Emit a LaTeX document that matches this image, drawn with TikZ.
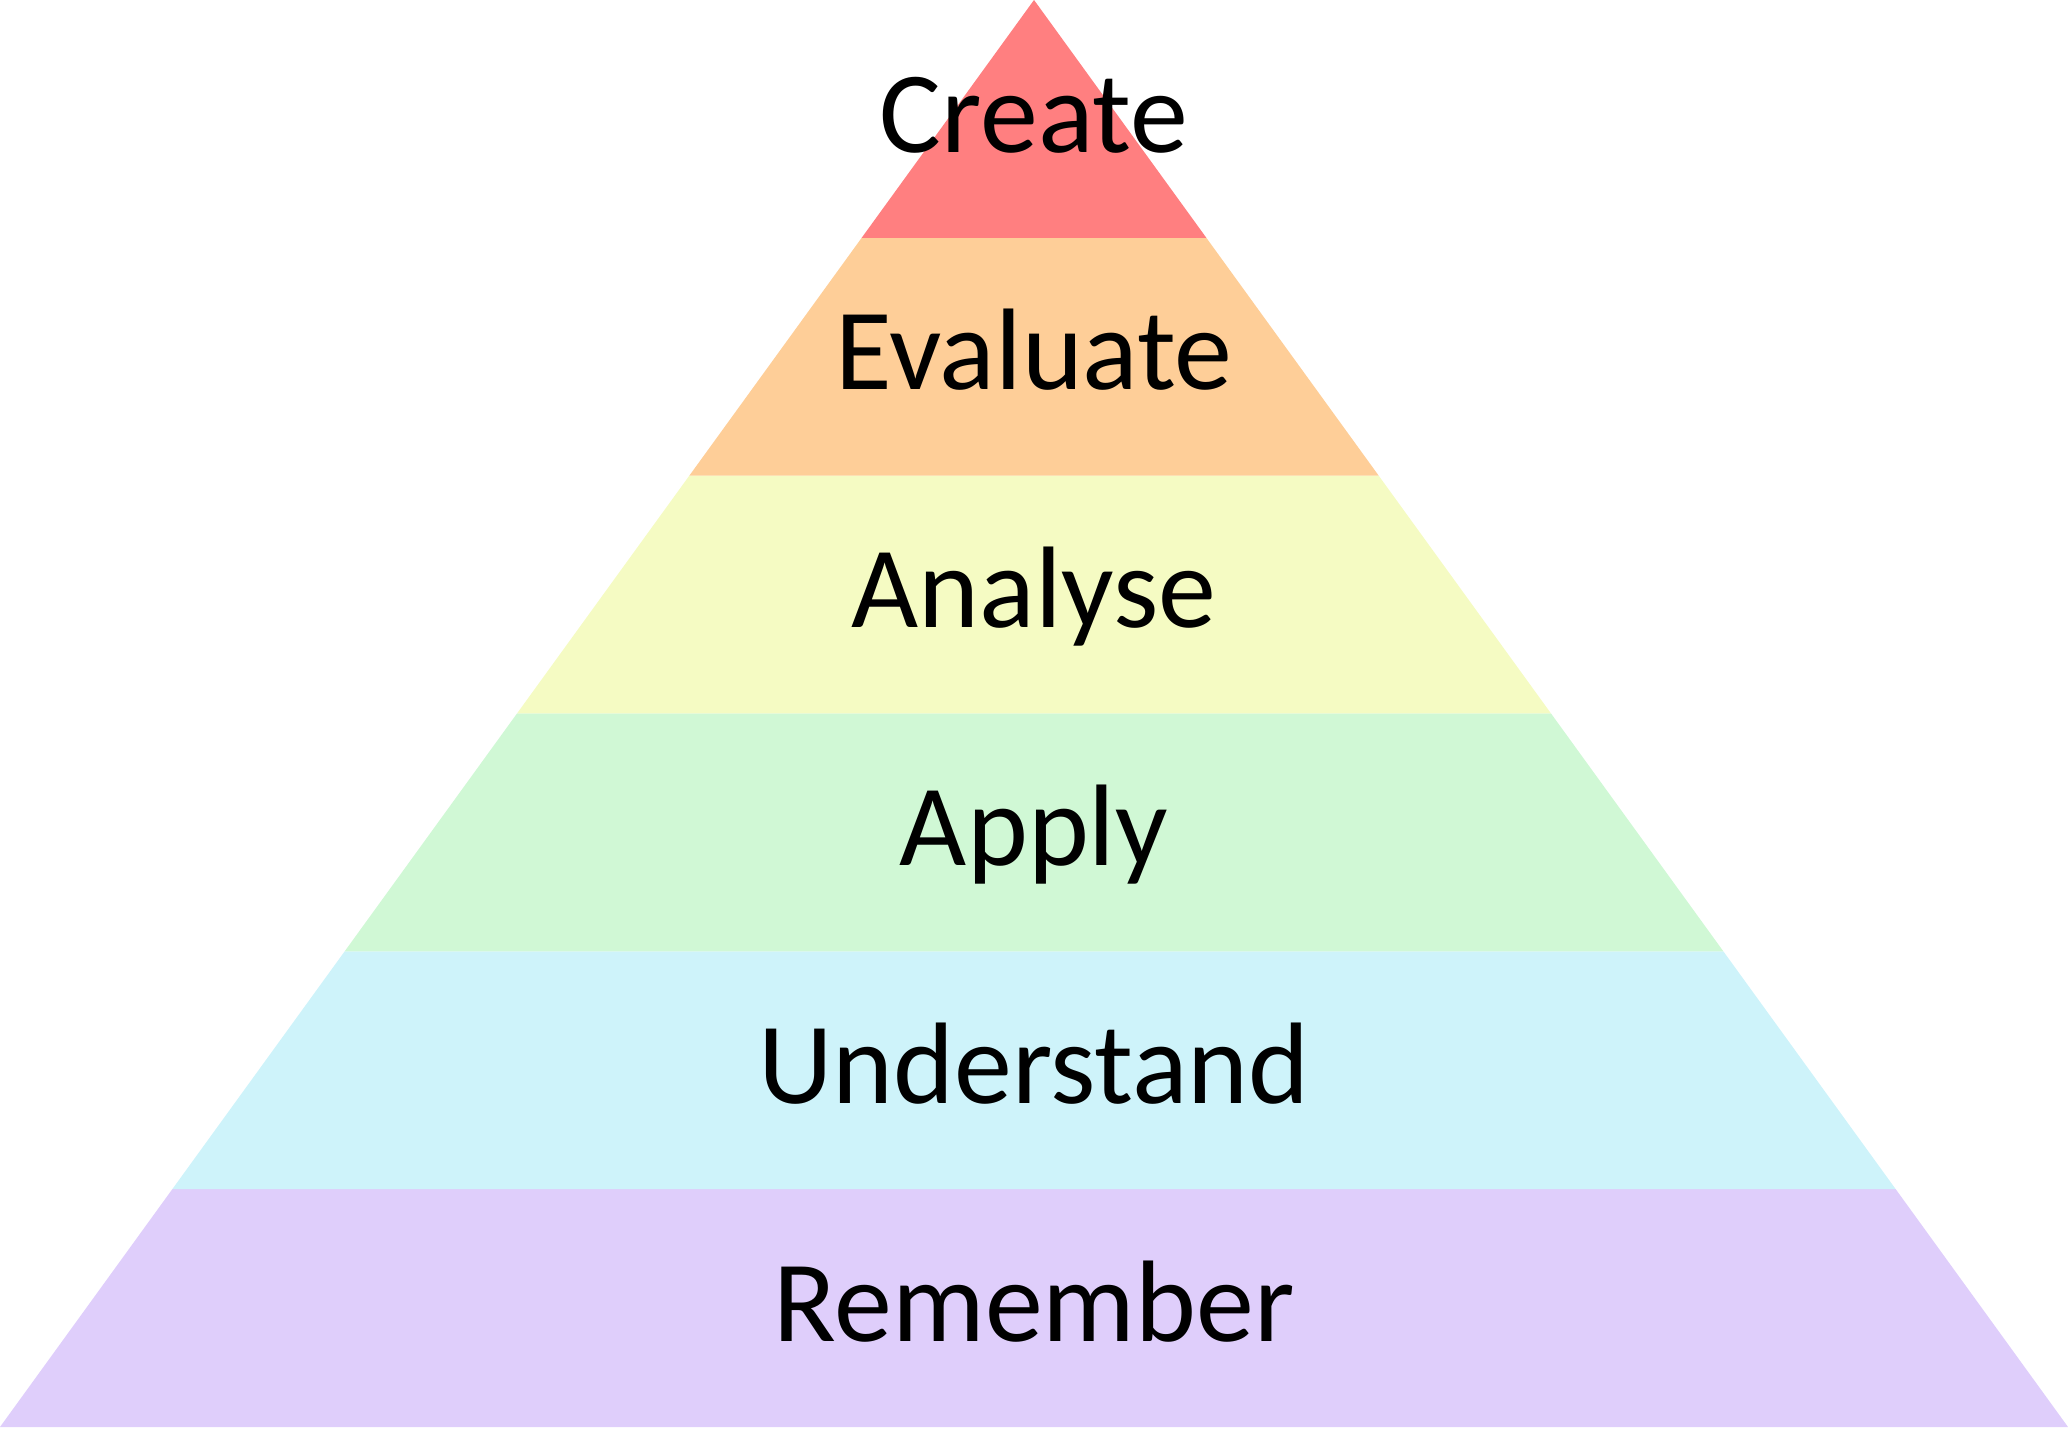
\documentclass[tikz,border=0pt]{standalone}
\usepackage{fontspec}
\setmainfont{Carlito}
\usetikzlibrary{positioning}
\definecolor{LvlCreate}{HTML}{FF7F80}
\definecolor{LvlEvaluate}{HTML}{FECE98}
\definecolor{LvlAnalyse}{HTML}{F5FBC3}
\definecolor{LvlApply}{HTML}{D0F8D5}
\definecolor{LvlUnderstand}{HTML}{CEF3FA}
\definecolor{LvlRemember}{HTML}{DFCEFB}

\begin{document}
\begin{tikzpicture}
    \tikzset{lvl/.style={anchor=base,inner sep=0pt,font=\fontsize{33}{38}\selectfont}}
    \useasboundingbox (0,0) rectangle (20.68,14.47);
    % bands, bottom to top
    \fill[LvlRemember] (0,0.20) -- (20.68,0.20) -- (18.957,2.578) -- (1.723,2.578) -- cycle;
    \fill[LvlUnderstand] (1.723,2.578) -- (18.957,2.578) -- (17.233,4.957) -- (3.447,4.957) -- cycle;
    \fill[LvlApply] (3.447,4.957) -- (17.233,4.957) -- (15.51,7.335) -- (5.17,7.335) -- cycle;
    \fill[LvlAnalyse] (5.17,7.335) -- (15.51,7.335) -- (13.787,9.713) -- (6.893,9.713) -- cycle;
    \fill[LvlEvaluate] (6.893,9.713) -- (13.787,9.713) -- (12.063,12.092) -- (8.617,12.092) -- cycle;
    \fill[LvlCreate] (8.617,12.092) -- (12.063,12.092) -- (10.34,14.47) -- cycle;
    % labels
    \node[lvl] (remember) at (10.34,1.05) {Remember};
    \node[lvl] (understand) at (10.34,3.43) {Understand};
    \node[lvl] (apply) at (10.34,5.81) {Apply};
    \node[lvl] (analyse) at (10.34,8.19) {Analyse};
    \node[lvl] (evaluate) at (10.34,10.57) {Evaluate};
    \node[lvl] (create) at (10.34,12.94) {Create};
  \end{tikzpicture}
\end{document}
